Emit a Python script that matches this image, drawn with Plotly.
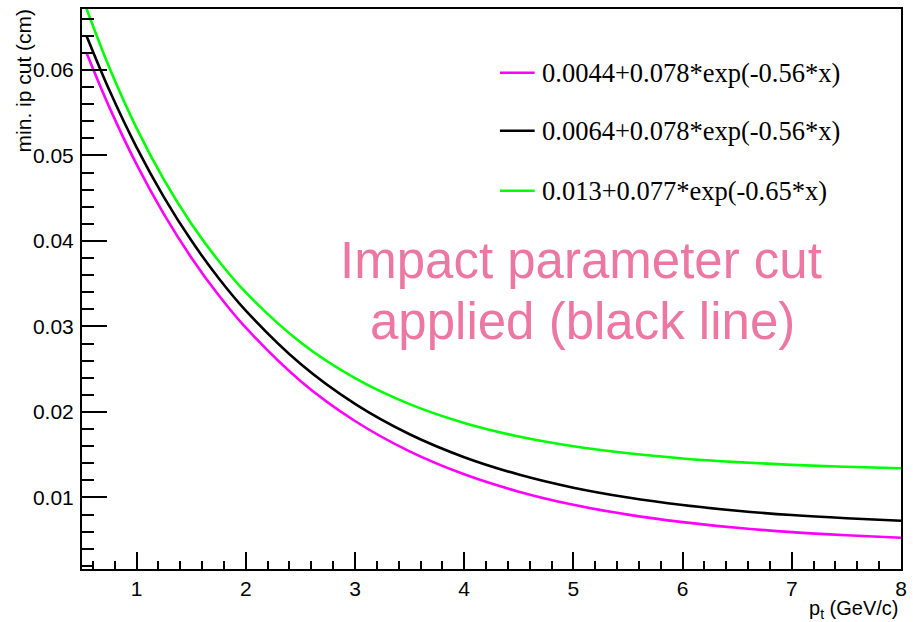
import plotly.graph_objects as go

# ---- data ----
pt = [0.54, 0.75, 1.0, 1.25, 1.5, 1.75, 2.0, 2.5, 3.0, 3.5, 4.0, 4.5,
      5.0, 5.5, 6.0, 6.5, 7.0, 7.5, 8.0]
cut_magenta = [0.06204, 0.05565, 0.04895, 0.04313, 0.03807, 0.03367, 0.02985,
               0.02363, 0.01894, 0.01539, 0.01271, 0.01068, 0.00914, 0.00799,
               0.00711, 0.00645, 0.00594, 0.00557, 0.00528]
cut_black = [0.06404, 0.05765, 0.05095, 0.04513, 0.04007, 0.03567, 0.03185,
             0.02563, 0.02094, 0.01739, 0.01471, 0.01268, 0.01114, 0.00999,
             0.00911, 0.00845, 0.00794, 0.00757, 0.00728]
cut_green = [0.06721, 0.06029, 0.05320, 0.04717, 0.04204, 0.03769, 0.03398,
             0.02816, 0.02396, 0.02092, 0.01872, 0.01713, 0.01599, 0.01516,
             0.01456, 0.01413, 0.01381, 0.01359, 0.01342]
series_names = ["0.0044+0.078*exp(-0.56*x)",
                "0.0064+0.078*exp(-0.56*x)",
                "0.013+0.077*exp(-0.65*x)"]
series_colors = ["#ff00ff", "#000000", "#00ff00"]
x_tickvals = [1, 2, 3, 4, 5, 6, 7, 8]
x_ticktext = ["1", "2", "3", "4", "5", "6", "7", "8"]
y_tickvals = [0.01, 0.02, 0.03, 0.04, 0.05, 0.06]
y_ticktext = ["0.01", "0.02", "0.03", "0.04", "0.05", "0.06"]

W, H = 913, 622
ML, MR, MT, MB = 82, 6, 9, 53
PW, PH = W - ML - MR, H - MT - MB


def px(x):
    return (x - ML) / PW


def py(y):
    return 1 - (y - MT) / PH


fig = go.Figure()
for ys, name, col in zip([cut_magenta, cut_black, cut_green], series_names, series_colors):
    fig.add_trace(go.Scatter(x=pt, y=ys, mode="lines", name=name,
                             line=dict(color=col, width=2.6, shape="spline"),
                             showlegend=False))

sans = "Liberation Sans, Arial, sans-serif"
tickfont = dict(family=sans, size=21, color="#000")
fig.update_xaxes(range=[0.5, 8.0], tickmode="array", tickvals=x_tickvals, ticktext=x_ticktext,
                 ticks="inside", ticklen=17, tickwidth=1.5, tickcolor="#000",
                 minor=dict(dtick=0.2, ticks="inside", ticklen=8, tickwidth=1.5, tickcolor="#000"),
                 showline=True, linecolor="#000", linewidth=2, mirror=True,
                 showgrid=False, zeroline=False, tickfont=tickfont, ticklabelstandoff=0)
fig.update_yaxes(range=[0.00163, 0.06713], tickmode="array", tickvals=y_tickvals, ticktext=y_ticktext,
                 ticks="inside", ticklen=25, tickwidth=1.5, tickcolor="#000",
                 minor=dict(dtick=0.002, ticks="inside", ticklen=12, tickwidth=1.5, tickcolor="#000"),
                 showline=True, linecolor="#000", linewidth=2, mirror=True,
                 showgrid=False, zeroline=False, tickfont=tickfont, ticklabelstandoff=2)

annotations = []
shapes = []
# custom legend
leg_y = [72.7, 130.7, 190.7]
for name, col, yy in zip(series_names, series_colors, leg_y):
    shapes.append(dict(type="line", xref="paper", yref="paper",
                       x0=px(503), x1=px(538), y0=py(yy), y1=py(yy),
                       line=dict(color=col, width=2.6)))
    annotations.append(dict(text=name, xref="paper", yref="paper", x=px(543), y=py(yy),
                            xanchor="left", yanchor="middle", showarrow=False,
                            font=dict(family="Liberation Serif, Times New Roman, serif",
                                      size=26.5, color="#000")))

pink = "#ec77a0"
annotations.append(dict(text="Impact parameter cut", xref="paper", yref="paper",
                        x=px(585), y=py(260), xanchor="center", yanchor="middle",
                        showarrow=False,
                        font=dict(family=sans, size=51, color=pink)))
annotations.append(dict(text="applied (black line)", xref="paper", yref="paper",
                        x=px(586), y=py(321), xanchor="center", yanchor="middle",
                        showarrow=False,
                        font=dict(family=sans, size=51, color=pink)))

# axis titles
annotations.append(dict(text="min. ip cut (cm)", xref="paper", yref="paper",
                        x=px(23), y=py(6), xanchor="center", yanchor="top", textangle=-90,
                        showarrow=False,
                        font=dict(family=sans, size=21, color="#000")))
annotations.append(dict(text="p<sub>t</sub> (GeV/c)", xref="paper", yref="paper",
                        x=px(906), y=py(609), xanchor="right", yanchor="middle",
                        showarrow=False,
                        font=dict(family=sans, size=20, color="#000")))

fig.update_layout(width=W, height=H, margin=dict(l=ML, r=MR, t=MT, b=MB, pad=0),
                  paper_bgcolor="white", plot_bgcolor="white",
                  annotations=annotations, shapes=shapes, showlegend=False)

fig.write_html("out.html")
